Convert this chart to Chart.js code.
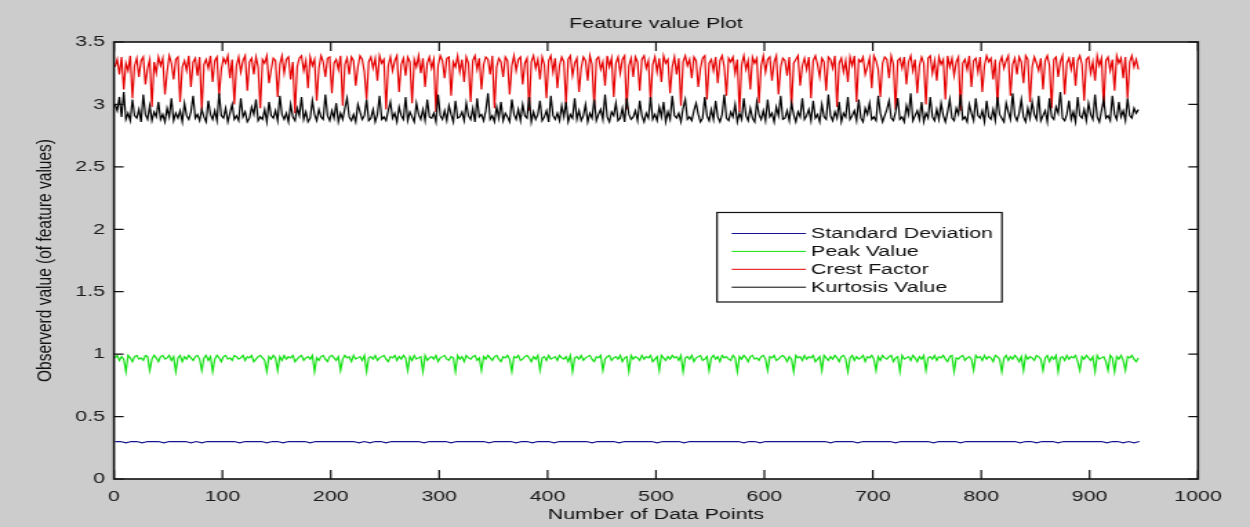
<!DOCTYPE html>
<html>
<head>
<meta charset="utf-8">
<title>Feature value Plot</title>
<script src="https://cdn.jsdelivr.net/npm/chart.js@4.4.1/dist/chart.umd.min.js"></script>
<style>
  html, body { margin: 0; padding: 0; background: #cccccc; overflow: hidden; }
  /* MATLAB export was stretched sideways, so draw narrow and widen it */
  #wrap { width: 906px; height: 527px; transform: scaleX(1.3797); transform-origin: 0 0; }
  canvas { display: block; }
</style>
</head>
<body>
<div id="wrap"><canvas id="featureChart" width="906" height="527"></canvas></div>
<script>
/* ── Data ── */
// standard deviation: every 5th sample
const stdDev = [
  0.30,0.30,0.29,0.30,0.30,0.29,0.30,0.30,0.30,0.29,
  0.30,0.30,0.30,0.30,0.29,0.30,0.29,0.30,0.30,0.30,
  0.30,0.30,0.30,0.29,0.30,0.30,0.30,0.30,0.29,0.30,
  0.30,0.29,0.30,0.30,0.30,0.30,0.29,0.30,0.30,0.30,
  0.30,0.30,0.30,0.30,0.30,0.29,0.30,0.29,0.30,0.30,
  0.29,0.30,0.30,0.30,0.30,0.30,0.30,0.29,0.30,0.30,
  0.30,0.30,0.29,0.30,0.30,0.30,0.30,0.30,0.30,0.29,
  0.30,0.30,0.30,0.30,0.29,0.30,0.30,0.29,0.30,0.30,
  0.30,0.29,0.30,0.30,0.30,0.30,0.30,0.30,0.29,0.30,
  0.30,0.30,0.30,0.29,0.30,0.30,0.30,0.30,0.30,0.30,
  0.29,0.30,0.30,0.30,0.30,0.29,0.30,0.30,0.30,0.30,
  0.30,0.30,0.30,0.30,0.30,0.30,0.29,0.30,0.30,0.29,
  0.30,0.30,0.30,0.30,0.30,0.30,0.30,0.30,0.30,0.30,
  0.30,0.30,0.29,0.30,0.30,0.30,0.30,0.29,0.30,0.30,
  0.30,0.30,0.30,0.30,0.29,0.30,0.30,0.30,0.30,0.30,
  0.30,0.29,0.30,0.30,0.30,0.30,0.29,0.30,0.30,0.30,
  0.30,0.30,0.30,0.30,0.30,0.30,0.30,0.29,0.30,0.30,
  0.29,0.30,0.30,0.30,0.29,0.30,0.30,0.30,0.30,0.30,
  0.30,0.30,0.30,0.29,0.30,0.30,0.29,0.30,0.29,0.30,
];

// the three noisy features: every 2nd sample
const peakValue = [
  0.97,0.99,0.95,0.98,0.96,0.86,0.99,0.97,0.94,0.98,0.99,0.96,0.97,0.95,0.99,0.98,0.87,0.96,0.99,0.97,
  0.94,0.98,0.99,0.96,0.97,0.99,0.95,0.98,0.86,0.97,0.99,0.94,0.98,0.96,0.99,0.97,0.95,0.98,0.99,0.96,
  0.87,0.97,0.99,0.95,0.98,0.86,0.96,0.99,0.97,0.94,0.98,0.99,0.96,0.97,0.95,0.99,0.98,0.96,0.97,0.99,
  0.95,0.98,0.97,0.99,0.94,0.96,0.98,0.99,0.97,0.95,0.86,0.98,0.96,0.99,0.97,0.87,0.98,0.95,0.99,0.96,
  0.98,0.97,0.99,0.94,0.96,0.98,0.99,0.95,0.97,0.98,0.96,0.99,0.86,0.97,0.95,0.98,0.99,0.96,0.94,0.98,
  0.99,0.97,0.95,0.98,0.87,0.96,0.99,0.97,0.98,0.94,0.99,0.96,0.97,0.98,0.95,0.99,0.86,0.97,0.98,0.96,
  0.99,0.95,0.97,0.98,0.99,0.96,0.94,0.98,0.97,0.99,0.95,0.98,0.96,0.99,0.97,0.87,0.98,0.95,0.99,0.96,
  0.97,0.98,0.86,0.99,0.95,0.97,0.98,0.96,0.99,0.94,0.97,0.98,0.99,0.96,0.95,0.98,0.97,0.86,0.99,0.96,
  0.98,0.94,0.99,0.97,0.96,0.98,0.99,0.95,0.97,0.87,0.98,0.96,0.99,0.97,0.95,0.98,0.99,0.96,0.94,0.98,
  0.97,0.99,0.96,0.86,0.98,0.97,0.99,0.95,0.96,0.98,0.99,0.97,0.94,0.98,0.96,0.99,0.87,0.97,0.98,0.95,
  0.99,0.96,0.97,0.98,0.95,0.99,0.97,0.96,0.98,0.94,0.99,0.86,0.97,0.98,0.96,0.99,0.95,0.97,0.98,0.99,
  0.96,0.94,0.98,0.97,0.99,0.87,0.96,0.98,0.99,0.95,0.97,0.98,0.96,0.99,0.94,0.97,0.98,0.86,0.99,0.96,
  0.98,0.97,0.95,0.99,0.96,0.98,0.97,0.99,0.94,0.96,0.98,0.87,0.99,0.97,0.95,0.98,0.96,0.99,0.97,0.98,
  0.95,0.99,0.86,0.97,0.98,0.96,0.99,0.94,0.97,0.98,0.99,0.95,0.96,0.98,0.87,0.97,0.99,0.96,0.98,0.94,
  0.99,0.97,0.98,0.96,0.95,0.99,0.97,0.86,0.98,0.96,0.99,0.97,0.94,0.98,0.99,0.96,0.97,0.95,0.98,0.99,
  0.96,0.87,0.98,0.97,0.99,0.95,0.96,0.98,0.99,0.97,0.94,0.98,0.96,0.86,0.99,0.97,0.98,0.95,0.99,0.96,
  0.98,0.97,0.99,0.94,0.96,0.98,0.87,0.99,0.97,0.95,0.98,0.96,0.99,0.97,0.94,0.98,0.99,0.96,0.86,0.97,
  0.99,0.95,0.98,0.96,0.97,0.99,0.94,0.98,0.97,0.99,0.96,0.87,0.98,0.95,0.99,0.97,0.96,0.98,0.99,0.94,
  0.97,0.98,0.86,0.99,0.96,0.97,0.98,0.95,0.99,0.97,0.94,0.98,0.96,0.99,0.87,0.97,0.98,0.96,0.99,0.95,
  0.98,0.97,0.99,0.96,0.94,0.98,0.99,0.86,0.97,0.96,0.98,0.99,0.95,0.97,0.98,0.96,0.87,0.99,0.97,0.98,
  0.95,0.99,0.96,0.98,0.97,0.94,0.99,0.98,0.96,0.86,0.97,0.99,0.95,0.98,0.96,0.99,0.97,0.94,0.98,0.87,
  0.99,0.96,0.98,0.97,0.95,0.99,0.98,0.96,0.87,0.97,0.99,0.94,0.98,0.96,0.99,0.86,0.97,0.98,0.95,0.99,
  0.96,0.98,0.97,0.99,0.94,0.87,0.98,0.96,0.99,0.97,0.95,0.98,0.86,0.99,0.96,0.97,0.98,0.94,0.87,0.99,
  0.97,0.86,0.98,0.96,0.99,0.95,0.87,0.98,0.97,0.99,0.96,0.94,0.97,
];

const crestFactor = [
  3.30,3.36,3.24,3.38,3.12,3.33,3.27,3.39,3.05,3.31,3.37,3.22,3.35,3.38,3.16,3.29,3.36,2.98,3.34,3.25,
  3.38,3.31,3.37,3.08,3.26,3.39,3.33,3.20,3.36,3.38,3.02,3.30,3.35,3.27,3.39,3.14,3.34,3.37,3.23,3.38,
  2.95,3.32,3.36,3.29,3.39,3.18,3.35,3.38,3.07,3.28,3.37,3.33,3.39,3.21,3.36,3.00,3.31,3.38,3.26,3.35,
  3.39,3.11,3.34,3.37,3.24,3.38,3.30,2.97,3.36,3.33,3.39,3.17,3.28,3.37,3.35,3.06,3.32,3.39,3.25,3.36,
  3.38,3.20,3.34,2.93,3.30,3.37,3.39,3.27,3.35,3.13,3.38,3.31,3.36,3.03,3.29,3.39,3.34,3.22,3.37,3.38,
  3.09,3.33,3.36,3.28,3.39,2.99,3.32,3.37,3.24,3.38,3.35,3.15,3.30,3.39,3.36,3.26,3.04,3.34,3.38,3.29,
  3.37,3.19,3.39,3.33,3.36,2.96,3.31,3.38,3.27,3.35,3.39,3.10,3.32,3.37,3.23,3.38,3.34,3.01,3.36,3.30,
  3.39,3.25,3.37,3.14,3.33,3.38,3.29,3.36,2.94,3.31,3.39,3.35,3.21,3.37,3.38,3.07,3.34,3.30,3.39,3.26,
  3.36,3.18,3.38,3.33,3.02,3.35,3.39,3.28,3.37,3.12,3.32,3.38,3.36,3.24,3.39,2.97,3.30,3.37,3.34,3.22,
  3.38,3.35,3.08,3.31,3.39,3.27,3.36,3.38,3.16,3.33,3.37,2.95,3.34,3.39,3.29,3.36,3.20,3.38,3.32,3.05,
  3.35,3.39,3.26,3.37,3.13,3.31,3.38,3.34,3.00,3.36,3.39,3.23,3.33,3.37,3.10,3.29,3.38,3.35,3.19,3.39,
  3.32,2.98,3.36,3.38,3.28,3.34,3.15,3.39,3.30,3.37,3.06,3.33,3.38,3.25,3.36,3.39,2.96,3.31,3.37,3.22,
  3.38,3.34,3.11,3.36,3.39,3.29,3.35,3.03,3.32,3.38,3.26,3.37,3.18,3.39,3.33,3.36,3.09,3.30,3.38,3.24,
  3.37,2.99,3.34,3.39,3.31,3.36,3.21,3.38,3.35,3.14,3.29,3.37,3.39,3.04,3.33,3.36,3.27,3.38,3.17,3.35,
  3.39,3.30,3.07,3.37,3.34,3.38,3.25,3.36,2.94,3.32,3.39,3.28,3.35,3.12,3.38,3.33,3.37,3.01,3.31,3.39,
  3.26,3.36,3.38,3.19,3.34,3.39,3.08,3.30,3.37,3.35,3.23,3.38,2.97,3.33,3.36,3.39,3.15,3.31,3.37,3.28,
  3.38,3.05,3.35,3.39,3.32,3.22,3.37,3.34,3.11,3.38,3.36,3.29,3.39,2.98,3.33,3.37,3.26,3.35,3.18,3.38,
  3.31,3.39,3.02,3.36,3.34,3.38,3.24,3.30,3.37,3.13,3.39,3.35,3.28,3.06,3.33,3.38,3.36,3.21,3.39,3.32,
  2.96,3.35,3.37,3.29,3.38,3.16,3.34,3.39,3.27,3.36,3.09,3.31,3.38,3.33,3.00,3.37,3.39,3.25,3.35,3.19,
  3.38,3.32,3.36,3.04,3.39,3.30,3.37,3.23,3.34,3.38,2.95,3.33,3.36,3.28,3.39,3.14,3.35,3.37,3.26,3.38,
  3.10,3.31,3.39,3.34,3.37,3.20,3.36,2.99,3.33,3.38,3.29,3.35,3.39,3.07,3.32,3.37,3.24,3.38,3.34,3.17,
  3.39,3.36,3.02,3.30,3.38,3.33,3.27,3.37,3.12,3.35,3.39,3.31,2.97,3.36,3.38,3.22,3.34,3.39,3.08,3.33,
  3.37,3.28,3.38,3.15,3.35,3.39,3.32,3.03,3.36,3.38,3.25,3.34,3.19,3.39,3.31,3.37,2.98,3.35,3.38,3.27,
  3.36,3.11,3.39,3.33,3.37,3.21,3.38,3.05,3.34,3.39,3.30,3.36,3.28,
];

const kurtosisValue = [
  3.00,2.95,3.06,2.90,3.10,2.88,2.93,2.87,3.04,2.91,2.89,2.96,2.86,3.08,2.92,2.88,2.99,2.87,2.94,2.90,
  3.02,2.88,2.92,2.86,2.97,2.90,3.05,2.87,2.93,2.89,2.95,2.86,3.01,2.91,2.88,2.94,3.07,2.89,2.92,2.87,
  2.96,2.90,2.86,3.03,2.92,2.88,2.95,2.87,3.09,2.91,2.89,2.97,2.86,2.93,3.00,2.88,2.91,2.87,3.05,2.90,
  2.94,2.86,2.89,2.98,2.92,3.04,2.87,2.90,2.88,2.96,2.86,3.02,2.91,2.89,2.95,2.87,3.07,2.92,2.88,2.93,
  2.86,3.00,2.90,2.87,2.97,2.91,3.06,2.88,2.94,2.86,2.89,3.03,2.92,2.87,2.96,2.90,2.88,3.08,2.91,2.87,
  2.95,2.89,3.01,2.86,2.93,2.88,2.97,3.05,2.90,2.87,2.92,2.86,3.00,2.94,2.88,2.91,3.04,2.87,2.89,2.96,
  2.86,2.92,3.07,2.88,2.90,2.87,2.95,3.02,2.89,2.93,2.86,2.98,2.91,2.88,3.06,2.87,2.94,2.90,2.86,3.01,
  2.92,2.88,2.96,2.87,3.04,2.90,2.89,2.93,2.86,3.08,2.91,2.88,2.95,2.87,2.99,2.92,2.86,3.03,2.89,2.90,
  2.94,2.87,3.01,2.91,2.88,2.97,2.86,3.05,2.90,2.92,2.87,2.95,3.09,2.88,2.91,2.86,2.98,2.89,3.02,2.87,
  2.93,2.90,2.86,3.04,2.92,2.88,2.96,2.87,3.00,2.91,2.89,3.06,2.86,2.94,2.88,2.92,3.03,2.87,2.90,2.95,
  2.86,3.07,2.91,2.88,2.93,2.87,2.99,2.90,3.02,2.86,2.92,2.89,3.05,2.88,2.95,2.87,2.91,3.00,2.86,2.93,
  2.89,3.04,2.87,2.92,2.96,2.88,3.08,2.90,2.86,2.94,2.91,3.01,2.87,2.89,2.97,2.86,3.05,2.92,2.88,2.90,
  2.95,2.87,3.03,2.91,2.86,2.93,2.89,3.06,2.88,2.92,2.87,2.98,2.90,3.02,2.86,2.94,2.88,3.07,2.91,2.89,
  2.93,2.86,2.97,3.04,2.88,2.90,2.87,2.95,3.01,2.92,2.86,2.89,3.06,2.91,2.87,2.96,2.88,3.03,2.90,2.86,
  2.92,3.08,2.89,2.87,2.94,2.90,3.00,2.86,2.93,2.88,3.05,2.91,2.87,2.97,2.89,2.86,3.02,2.92,2.88,2.95,
  2.87,3.04,2.90,2.93,2.86,2.98,2.91,3.07,2.88,2.89,2.95,2.87,3.01,2.92,2.86,2.94,2.90,3.05,2.88,2.91,
  2.96,2.87,3.03,2.89,2.92,2.86,3.00,2.90,2.88,3.08,2.91,2.87,2.94,2.89,3.02,2.86,2.93,2.90,3.06,2.88,
  2.91,2.95,2.87,3.04,2.89,2.86,2.97,2.92,3.01,2.88,2.90,2.87,3.07,2.93,2.86,2.91,2.96,3.03,2.89,2.87,
  2.94,3.05,2.88,2.90,2.86,2.99,2.92,3.09,2.87,2.91,2.95,2.88,3.02,2.86,2.93,2.89,3.06,2.90,2.87,2.96,
  2.88,3.01,2.91,2.86,2.94,3.04,2.89,2.87,2.97,2.92,3.08,2.88,2.90,2.86,3.00,2.93,2.87,3.05,2.91,2.89,
  2.95,2.86,3.03,2.90,2.88,2.96,2.87,3.06,2.92,2.89,2.86,3.01,2.94,2.88,3.09,2.91,2.87,2.93,3.04,2.90,
  2.86,2.97,2.89,3.02,2.92,2.88,3.07,2.87,2.91,2.95,2.86,3.05,2.90,2.88,2.98,2.93,3.10,2.89,2.87,2.92,
  3.03,2.88,2.94,2.86,3.06,2.91,2.89,2.96,2.87,3.01,2.92,2.88,3.08,2.90,2.86,2.95,3.04,2.89,2.91,2.87,
  3.07,2.92,2.88,3.02,2.90,2.95,2.87,3.05,2.91,2.89,2.97,2.93,2.96,
];

// sample numbers: std dev read every 5th sample, the others every 2nd
const coarseSample = stdDev.map((_, i) => 1 + i * 5);
const fineSample = crestFactor.map((_, i) => 1 + i * 2);

const xTickValues = [0, 100, 200, 300, 400, 500, 600, 700, 800, 900, 1000];
const xTickLabels = ["0", "100", "200", "300", "400", "500", "600", "700", "800", "900", "1000"];
const yTickValues = [0, 0.5, 1, 1.5, 2, 2.5, 3, 3.5];
const yTickLabels = ["0", "0.5", "1", "1.5", "2", "2.5", "3", "3.5"];

const toPoints = (values, samples) => values.map((v, i) => ({ x: samples[i], y: v }));

/* ── Plugins ── */
const figureBackground = {
  id: "figureBackground",
  beforeDraw(chart) {
    const { ctx, chartArea: a } = chart;
    ctx.save();
    ctx.fillStyle = "#cccccc";
    ctx.fillRect(0, 0, chart.width, chart.height);
    ctx.fillStyle = "#ffffff";
    ctx.fillRect(a.left, a.top, a.right - a.left, a.bottom - a.top);
    ctx.restore();
  },
};

// box round the axes with inward tick marks on all four sides
const matlabBox = {
  id: "matlabBox",
  afterDatasetsDraw(chart) {
    const { ctx, chartArea: a, scales: { x, y } } = chart;
    ctx.save();
    ctx.strokeStyle = "#111";
    ctx.lineWidth = 1.2;
    ctx.beginPath();
    x.ticks.forEach((t) => {
      const px = x.getPixelForValue(t.value);
      ctx.moveTo(px, a.bottom);
      ctx.lineTo(px, a.bottom - 9);
      ctx.moveTo(px, a.top);
      ctx.lineTo(px, a.top + 9);
    });
    y.ticks.forEach((t) => {
      const py = y.getPixelForValue(t.value);
      ctx.moveTo(a.left, py);
      ctx.lineTo(a.left + 7, py);
      ctx.moveTo(a.right, py);
      ctx.lineTo(a.right - 7, py);
    });
    ctx.stroke();
    ctx.lineWidth = 1.6;
    ctx.strokeRect(a.left, a.top, a.right - a.left, a.bottom - a.top);
    ctx.restore();
  },
};

// legend box placed inside the axes like MATLAB's
const insideLegend = {
  id: "insideLegend",
  afterDraw(chart) {
    const { ctx } = chart;
    const box = { left: 519.7, top: 212.5, width: 206.5, height: 89.5 };
    ctx.save();
    ctx.fillStyle = "#ffffff";
    ctx.fillRect(box.left, box.top, box.width, box.height);
    ctx.strokeStyle = "#111";
    ctx.lineWidth = 1.2;
    ctx.strokeRect(box.left, box.top, box.width, box.height);
    ctx.font = "15.5px 'Liberation Sans', Arial, sans-serif";
    ctx.textBaseline = "middle";
    ctx.fillStyle = "#111";
    chart.data.datasets.forEach((ds, i) => {
      const rowY = 233.5 + i * 17.9;
      ctx.strokeStyle = ds.borderColor;
      ctx.lineWidth = 1;
      ctx.beginPath();
      ctx.moveTo(530.3, rowY);
      ctx.lineTo(584.2, rowY);
      ctx.stroke();
      ctx.fillText(ds.label, 587.8, rowY + 0.5);
    });
    ctx.restore();
  },
};

/* ── Chart ── */
Chart.defaults.font.family = "'Liberation Sans', Arial, sans-serif";
Chart.defaults.font.size = 15.5;
Chart.defaults.color = "#111";

const lineStyle = { borderWidth: 1.2, pointRadius: 0, tension: 0, fill: false };

new Chart(document.getElementById("featureChart"), {
  type: "line",
  data: {
    datasets: [
      { label: "Standard Deviation", data: toPoints(stdDev, coarseSample), borderColor: "#14148c", order: 4, ...lineStyle },
      { label: "Peak Value", data: toPoints(peakValue, fineSample), borderColor: "#11e011", order: 3, ...lineStyle },
      { label: "Crest Factor", data: toPoints(crestFactor, fineSample), borderColor: "#e60000", order: 2, ...lineStyle },
      { label: "Kurtosis Value", data: toPoints(kurtosisValue, fineSample), borderColor: "#000000", order: 1, ...lineStyle },
    ],
  },
  options: {
    responsive: false,
    animation: false,
    devicePixelRatio: 1,
    layout: { padding: { top: 0, right: 37.7, bottom: 0, left: 0 } },
    plugins: {
      legend: { display: false },
      tooltip: { enabled: false },
      title: {
        display: true,
        text: "Feature value Plot",
        fullSize: false,
        color: "#111",
        font: { size: 15.5, weight: "normal", lineHeight: 1.2 },
        padding: { top: 14, bottom: 9.4 },
      },
    },
    scales: {
      x: {
        type: "linear",
        min: 0,
        max: 1000,
        grid: { display: false, drawTicks: false },
        border: { display: false },
        afterBuildTicks: (scale) => { scale.ticks = xTickValues.map((v) => ({ value: v })); },
        afterFit: (scale) => { scale.height = 48; },
        ticks: {
          autoSkip: false,
          maxRotation: 0,
          padding: 8,
          color: "#1a1a1a",
          callback: (v, i) => xTickLabels[i],
        },
        title: {
          display: true,
          text: "Number of Data Points",
          color: "#111",
          font: { size: 15.5, lineHeight: 1.2 },
          padding: { top: 0, bottom: 2.7 },
        },
      },
      y: {
        min: 0,
        max: 3.5,
        grid: { display: false, drawTicks: false },
        border: { display: false },
        afterBuildTicks: (scale) => { scale.ticks = yTickValues.map((v) => ({ value: v })); },
        afterFit: (scale) => { scale.width = 82.6; },
        ticks: {
          padding: 6.5,
          color: "#1a1a1a",
          callback: (v, i) => yTickLabels[i],
        },
        title: {
          display: true,
          text: "Observerd value (of feature values)",
          color: "#111",
          font: { size: 15.5, lineHeight: 1.2 },
          padding: { top: 23.3, bottom: 0 },
        },
      },
    },
  },
  plugins: [figureBackground, matlabBox, insideLegend],
});
</script>
</body>
</html>
